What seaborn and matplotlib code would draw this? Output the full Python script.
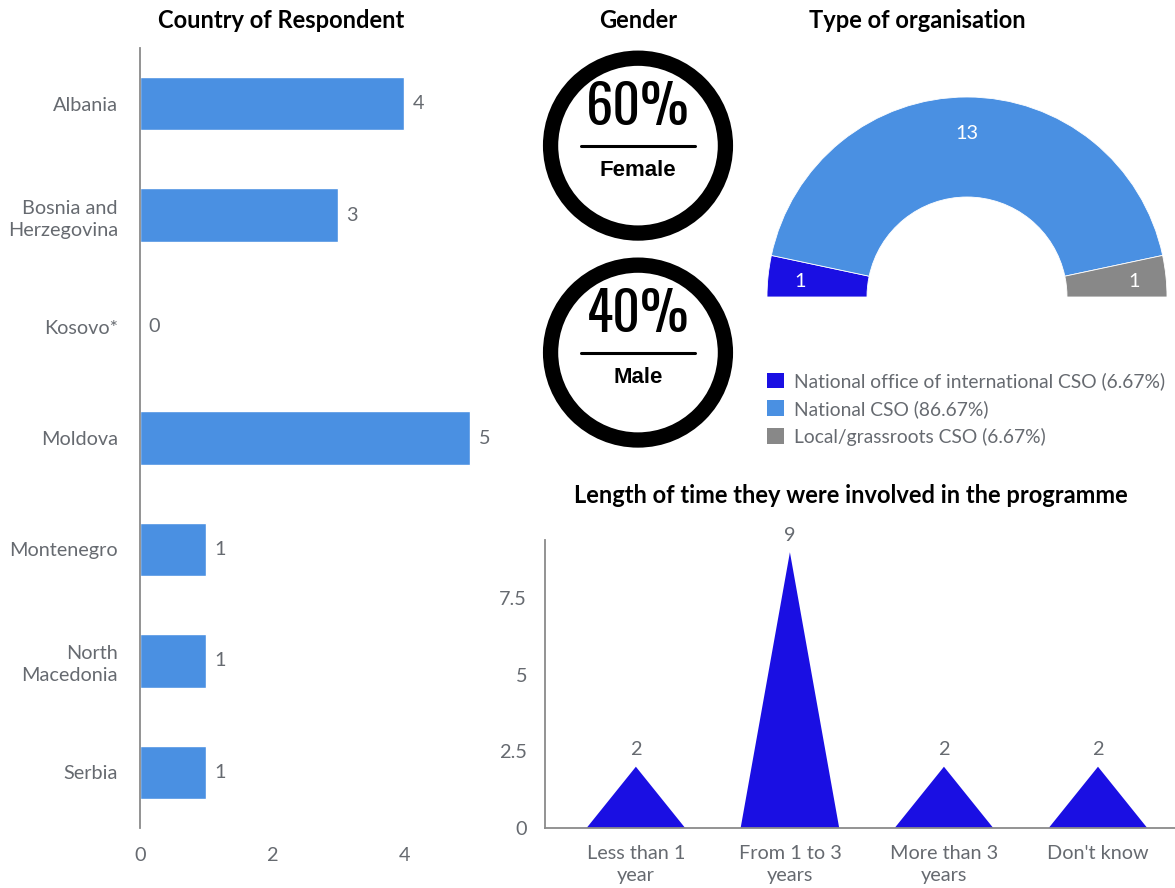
import numpy as np
import pandas as pd
import matplotlib.pyplot as plt
import matplotlib.patches as mpatches
import seaborn as sns

# ── Data ─────────────────────────────────────────────────────────────────────
countries = ["Albania", "Bosnia and\nHerzegovina", "Kosovo*", "Moldova",
             "Montenegro", "North\nMacedonia", "Serbia"]
country_counts = [4, 3, 0, 5, 1, 1, 1]

gender_labels = ["Female", "Male"]
gender_pct = [60, 40]

org_types = ["National office of international CSO",
             "National CSO", "Local/grassroots CSO"]
org_counts = [1, 13, 1]

duration_labels = ["Less than 1\nyear", "From 1 to 3\nyears",
                   "More than 3\nyears", "Don't know"]
duration_counts = [2, 9, 2, 2]

# ── Style ────────────────────────────────────────────────────────────────────
sns.set_theme(style="white")
plt.rcParams["font.family"] = ["Lato", "DejaVu Sans"]

BAR_BLUE = "#4a90e2"
DARK_BLUE = "#1a0fe3"
GREY = "#888888"
TXT = "#666a70"
SPINE = "#8a8a8a"
FS = 14.3      # tick / value labels
TFS = 17       # titles

W, H = 1175, 888
fig = plt.figure(figsize=(W / 100, H / 100), dpi=100)


def px_axes(x0, y0, x1, y1):
    """axes from pixel box (top-left origin)"""
    return fig.add_axes([x0 / W, 1 - y1 / H, (x1 - x0) / W, (y1 - y0) / H])


def title_at(x, y, s):
    fig.text(x / W, 1 - y / H, s, ha="center", va="center",
             fontsize=TFS, fontweight="bold", color="black")


# ── 1. Country of Respondent ─────────────────────────────────────────────────
ax1 = px_axes(140, 48, 487, 828)
df_c = pd.DataFrame({"country": countries, "count": country_counts})
sns.barplot(data=df_c, y="country", x="count", color=BAR_BLUE, width=0.48,
            saturation=1, ax=ax1)
ax1.set_xlim(0, 5.25)
ax1.set_ylim(6.5, -0.5)
ax1.set_xticks([0, 2, 4])
ax1.set_xlabel("")
ax1.set_ylabel("")
ax1.tick_params(axis="both", length=0, labelsize=FS, labelcolor=TXT)
ax1.tick_params(axis="y", pad=16)
ax1.tick_params(axis="x", pad=14)
for lab in ax1.get_yticklabels():
    lab.set_linespacing(1.35)
for s in ["top", "right", "bottom"]:
    ax1.spines[s].set_visible(False)
ax1.spines["left"].set_color(SPINE)
ax1.spines["left"].set_linewidth(1.3)
for i, v in enumerate(country_counts):
    ax1.annotate(str(v), (v, i), xytext=(6, 0), textcoords="offset points",
                 va="center", ha="left", fontsize=FS, color=TXT)
title_at(281, 20, "Country of Respondent")

# ── 2. Gender ────────────────────────────────────────────────────────────────
ax2 = px_axes(537, 45, 739, 457)
ax2.set_xlim(-1.06, 1.06)
ax2.set_ylim(-3.28, 1.06)
ax2.set_aspect("equal")
ax2.axis("off")
for i, (lab, pct) in enumerate(zip(gender_labels, gender_pct)):
    cy = -i * 2.18
    ax2.add_patch(mpatches.Circle((0, cy), 0.921, fill=False, lw=11,
                                  edgecolor="black"))
    ax2.text(0, cy + 0.40, f"{pct}%", ha="center", va="center",
             fontsize=39, fontweight="bold",
             family=["Oswald", "Bebas Neue", "DejaVu Sans"], color="black")
    ax2.plot([-0.6, 0.6], [cy, cy], color="black", lw=2.2)
    ax2.text(0, cy - 0.26, lab, ha="center", va="center", fontsize=16,
             fontweight="bold", family=["Liberation Sans", "DejaVu Sans"],
             color="black")
title_at(638, 20, "Gender")

# ── 3. Type of organisation (half donut) ─────────────────────────────────────
ax3 = px_axes(767, 97, 1167, 497)
total = sum(org_counts)
fracs = [c / (2 * total) for c in org_counts]
wedges, _ = ax3.pie(fracs, normalize=False, startangle=180, counterclock=False,
                    colors=[DARK_BLUE, BAR_BLUE, GREY],
                    wedgeprops=dict(width=0.5, edgecolor="white", lw=0.6),
                    radius=1)
ax3.set_xlim(-1, 1)
ax3.set_ylim(-1, 1)
for w, c in zip(wedges, org_counts):
    ang = np.deg2rad((w.theta1 + w.theta2) / 2)
    ax3.text(0.84 * np.cos(ang), 0.83 * np.sin(ang) - 0.01, str(c),
             ha="center", va="center", color="white", fontsize=FS)
pcts = [100 * c / total for c in org_counts]
leg = fig.legend(wedges, [f"{t} ({p:.2f}%)" for t, p in zip(org_types, pcts)],
                 loc="upper left", bbox_to_anchor=(750 / W, 1 - 355 / H),
                 frameon=False, fontsize=13.9, handlelength=0.85,
                 handleheight=0.85, handletextpad=0.55, labelspacing=0.5,
                 labelcolor=TXT)
for h in leg.legend_handles:
    h.set_edgecolor("none")
title_at(917, 20, "Type of organisation")

# ── 4. Length of time in the programme ───────────────────────────────────────
ax4 = px_axes(545, 540, 1175, 828)
half = 0.32
for i, v in enumerate(duration_counts):
    ax4.fill([i - half, i, i + half], [0, v, 0], color=DARK_BLUE, lw=0)
    ax4.annotate(str(v), (i, v), xytext=(0, 6), textcoords="offset points",
                 ha="center", va="bottom", fontsize=FS, color=TXT)
ax4.set_xlim(-0.59, 3.5)
ax4.set_ylim(0, 9.4)
ax4.set_xticks(range(len(duration_labels)))
ax4.set_xticklabels(duration_labels, linespacing=1.35)
ax4.set_yticks([0, 2.5, 5, 7.5])
ax4.set_yticklabels(["0", "2.5", "5", "7.5"])
ax4.tick_params(axis="both", length=0, labelsize=FS, labelcolor=TXT)
ax4.tick_params(axis="y", pad=13)
ax4.tick_params(axis="x", pad=12)
for s in ["top", "right"]:
    ax4.spines[s].set_visible(False)
for s in ["left", "bottom"]:
    ax4.spines[s].set_color(SPINE)
    ax4.spines[s].set_linewidth(1.3)
title_at(851, 495, "Length of time they were involved in the programme")

fig.savefig("out.png", dpi=100)
